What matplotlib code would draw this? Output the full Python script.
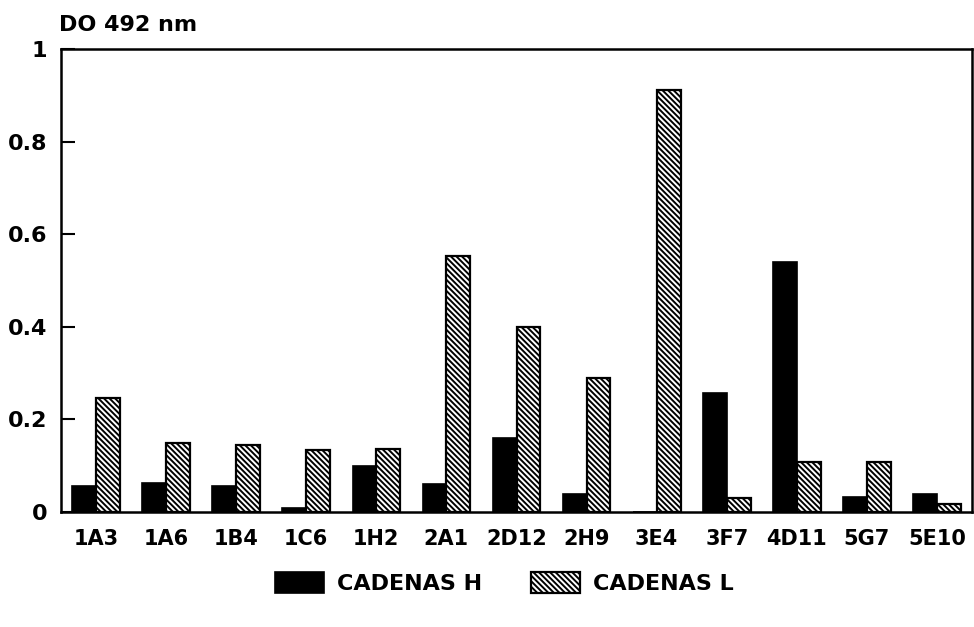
import matplotlib.pyplot as plt
import numpy as np

plt.rcParams['font.family'] = ['DejaVu Sans']
plt.rcParams['hatch.linewidth'] = 1.4

# data
clones = ['1A3', '1A6', '1B4', '1C6', '1H2', '2A1', '2D12', '2H9',
          '3E4', '3F7', '4D11', '5G7', '5E10']
cadenas_h = [0.056, 0.062, 0.057, 0.009, 0.099, 0.061, 0.159, 0.038,
             0.0, 0.256, 0.540, 0.032, 0.038]
cadenas_l = [0.247, 0.150, 0.145, 0.133, 0.135, 0.553, 0.400, 0.290,
             0.911, 0.031, 0.107, 0.107, 0.017]
yticks = [0, 0.2, 0.4, 0.6, 0.8, 1]
ytick_labels = ['0', '0.2', '0.4', '0.6', '0.8', '1']

fig = plt.figure(figsize=(9.74, 6.27), dpi=100)
ax = fig.add_axes([0.0626, 0.1834, 0.9354, 0.7385])

x = np.arange(len(clones))
w = 0.34
ax.bar(x - w / 2, cadenas_h, w, color='black', edgecolor='black',
       linewidth=1.2, label='CADENAS H')
ax.bar(x + w / 2, cadenas_l, w, color='white', edgecolor='black',
       linewidth=1.6, hatch='\\\\\\\\\\\\', label='CADENAS L')

ax.set_xlim(-0.5, len(clones) - 0.5)
ax.set_ylim(0, 1)
ax.set_xticks(x)
ax.set_xticklabels(clones, fontsize=15, fontweight='bold')
ax.set_yticks(yticks)
ax.set_yticklabels(ytick_labels, fontsize=16, fontweight='bold')
ax.tick_params(axis='x', length=0, pad=12)
ax.tick_params(axis='y', direction='in', length=10, width=1.5, pad=10)
for s in ax.spines.values():
    s.set_linewidth(1.8)

fig.text(0.061, 0.960, 'DO 492 nm', fontsize=16, fontweight='bold',
         ha='left', va='center')

leg = fig.legend(loc='center', bbox_to_anchor=(0.518, 0.070), ncol=2,
                 frameon=False, fontsize=16, handlelength=2.2,
                 handleheight=1.1, columnspacing=2.2, handletextpad=0.6)
for t in leg.get_texts():
    t.set_fontweight('bold')

fig.savefig('out.png', dpi=100)
